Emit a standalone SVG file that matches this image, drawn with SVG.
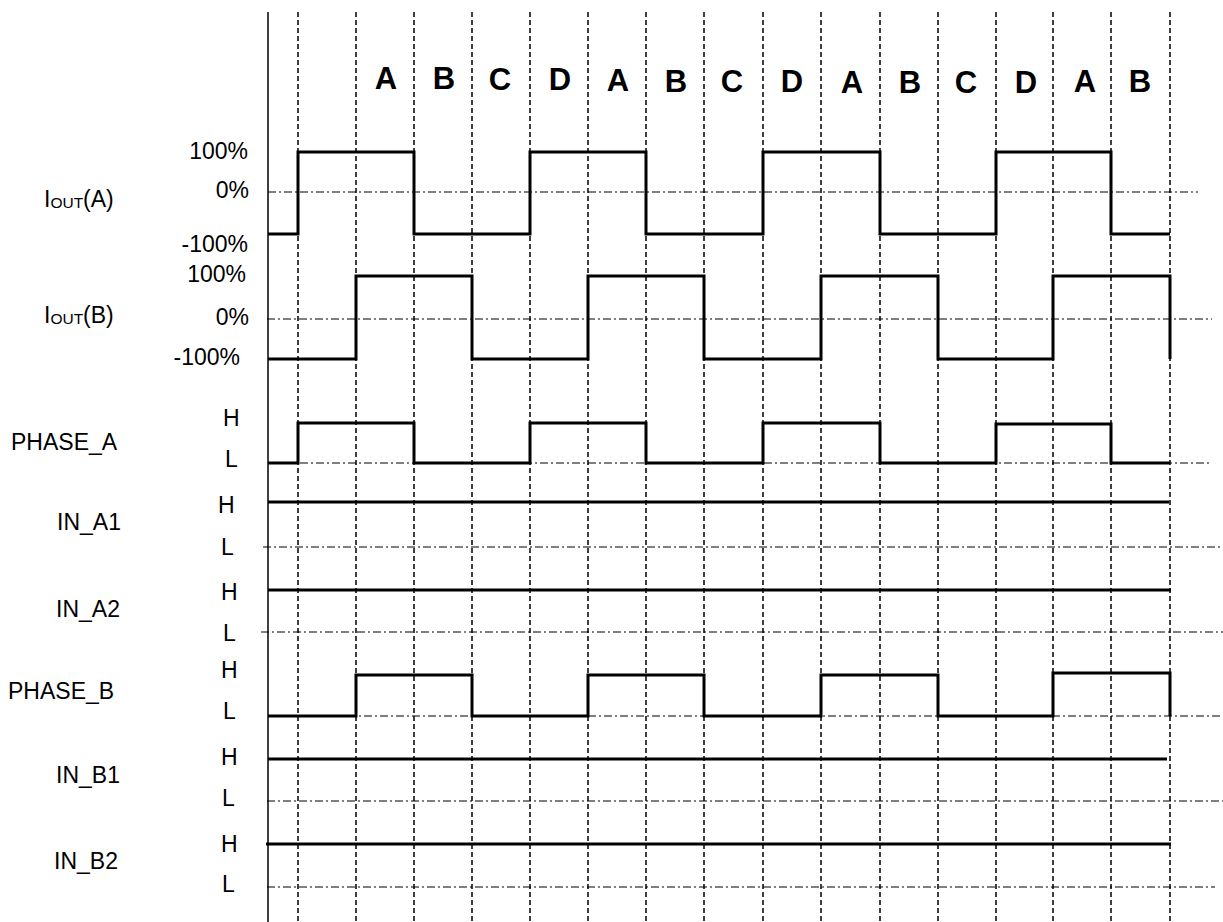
<svg xmlns="http://www.w3.org/2000/svg" width="1223" height="922" viewBox="0 0 1223 922">
<style>
text{font-family:"Liberation Sans",Arial,sans-serif;font-size:23px;fill:#000}
.num{text-anchor:end}
.ph{font-weight:bold;font-size:31px;text-anchor:middle}
.wave{fill:none;stroke:#000;stroke-width:3;stroke-linejoin:miter}
.grid{fill:none;stroke:#000;stroke-width:1.5;stroke-dasharray:5 3}
.ref{fill:none;stroke:#000;stroke-width:1;stroke-dasharray:8 3 2 3}
.axis{fill:none;stroke:#000;stroke-width:1.5}
</style>
<rect width="1223" height="922" fill="#fff"/>
<g id="connectors">
<line class="axis" x1="268" y1="12" x2="268" y2="922"/>
<g id="time-grid">
<line class="grid" x1="298" y1="12" x2="298" y2="922"/>
<line class="grid" x1="356" y1="12" x2="356" y2="922"/>
<line class="grid" x1="414" y1="12" x2="414" y2="922"/>
<line class="grid" x1="472" y1="12" x2="472" y2="922"/>
<line class="grid" x1="530" y1="12" x2="530" y2="922"/>
<line class="grid" x1="588" y1="12" x2="588" y2="922"/>
<line class="grid" x1="646" y1="12" x2="646" y2="922"/>
<line class="grid" x1="704" y1="12" x2="704" y2="922"/>
<line class="grid" x1="763" y1="12" x2="763" y2="922"/>
<line class="grid" x1="821" y1="12" x2="821" y2="922"/>
<line class="grid" x1="880" y1="12" x2="880" y2="922"/>
<line class="grid" x1="938" y1="12" x2="938" y2="922"/>
<line class="grid" x1="996" y1="12" x2="996" y2="922"/>
<line class="grid" x1="1053" y1="12" x2="1053" y2="922"/>
<line class="grid" x1="1111" y1="12" x2="1111" y2="922"/>
<line class="grid" x1="1170" y1="12" x2="1170" y2="922"/>
</g>
<g id="reference-levels">
<line class="ref" x1="268" y1="192" x2="1198" y2="192"/>
<line class="ref" x1="267" y1="319" x2="1212" y2="319"/>
<line class="ref" x1="268" y1="463" x2="1210" y2="463"/>
<line class="ref" x1="263" y1="547" x2="1223" y2="547"/>
<line class="ref" x1="261" y1="632" x2="1223" y2="632"/>
<line class="ref" x1="268" y1="716" x2="1223" y2="716"/>
<line class="ref" x1="267" y1="801" x2="1223" y2="801"/>
<line class="ref" x1="267" y1="887" x2="1215" y2="887"/>
</g>
</g>
<g id="steps">
<text class="ph" x="386" y="89">A</text>
<text class="ph" x="444" y="89">B</text>
<text class="ph" x="500" y="90">C</text>
<text class="ph" x="560" y="90">D</text>
<text class="ph" x="618" y="91">A</text>
<text class="ph" x="676" y="92">B</text>
<text class="ph" x="732" y="92">C</text>
<text class="ph" x="792" y="92">D</text>
<text class="ph" x="852" y="93">A</text>
<text class="ph" x="910" y="93">B</text>
<text class="ph" x="966" y="93">C</text>
<text class="ph" x="1026" y="93">D</text>
<text class="ph" x="1085" y="92">A</text>
<text class="ph" x="1140" y="92">B</text>
</g>
<g id="iout-a">
<text x="44" y="207">I<tspan font-size="15.5" dy="1">OUT</tspan><tspan dy="-1">(A)</tspan></text>
<text class="num" x="248" y="159">100%</text>
<text class="num" x="249" y="198">0%</text>
<text class="num" x="248" y="252">-100%</text>
<path class="wave" d="M268,234 H298 V152 H414 V234 H530 V152 H646 V234 H763 V152 H880 V234 H996 V152 H1111 V234 H1170"/>
</g>
<g id="iout-b">
<text x="44" y="323">I<tspan font-size="15.5" dy="1">OUT</tspan><tspan dy="-1">(B)</tspan></text>
<text class="num" x="246" y="282">100%</text>
<text class="num" x="249" y="325">0%</text>
<text class="num" x="240" y="365">-100%</text>
<path class="wave" d="M268,359 H356 V276 H472 V359 H588 V276 H704 V359 H821 V276 H938 V359 H1053 V276 H1170 V359"/>
</g>
<g id="phase-a">
<text x="11" y="450">PHASE_A</text>
<text x="223" y="426">H</text>
<text x="225" y="467">L</text>
<path class="wave" d="M268,463 H298 V423 H414 V463 H530 V423 H646 V463 H763 V423 H880 V463 H996 V424 H1111 V463 H1170"/>
</g>
<g id="in-a1">
<text x="57" y="530">IN_A1</text>
<text x="218" y="513">H</text>
<text x="221" y="555">L</text>
<path class="wave" d="M268,502 H1169"/>
</g>
<g id="in-a2">
<text x="56" y="617">IN_A2</text>
<text x="221" y="600">H</text>
<text x="223" y="641">L</text>
<path class="wave" d="M268,590 H1171"/>
</g>
<g id="phase-b">
<text x="8" y="699">PHASE_B</text>
<text x="221" y="678">H</text>
<text x="223" y="719">L</text>
<path class="wave" d="M268,716 H356 V675 H472 V716 H588 V675 H704 V716 H821 V675 H938 V716 H1053 V673 H1170 V716"/>
</g>
<g id="in-b1">
<text x="56" y="783">IN_B1</text>
<text x="221" y="765">H</text>
<text x="222" y="806">L</text>
<path class="wave" d="M268,759 H1167"/>
</g>
<g id="in-b2">
<text x="54" y="869">IN_B2</text>
<text x="221" y="852">H</text>
<text x="222" y="892">L</text>
<path class="wave" d="M266,844 H1171"/>
</g>
</svg>
